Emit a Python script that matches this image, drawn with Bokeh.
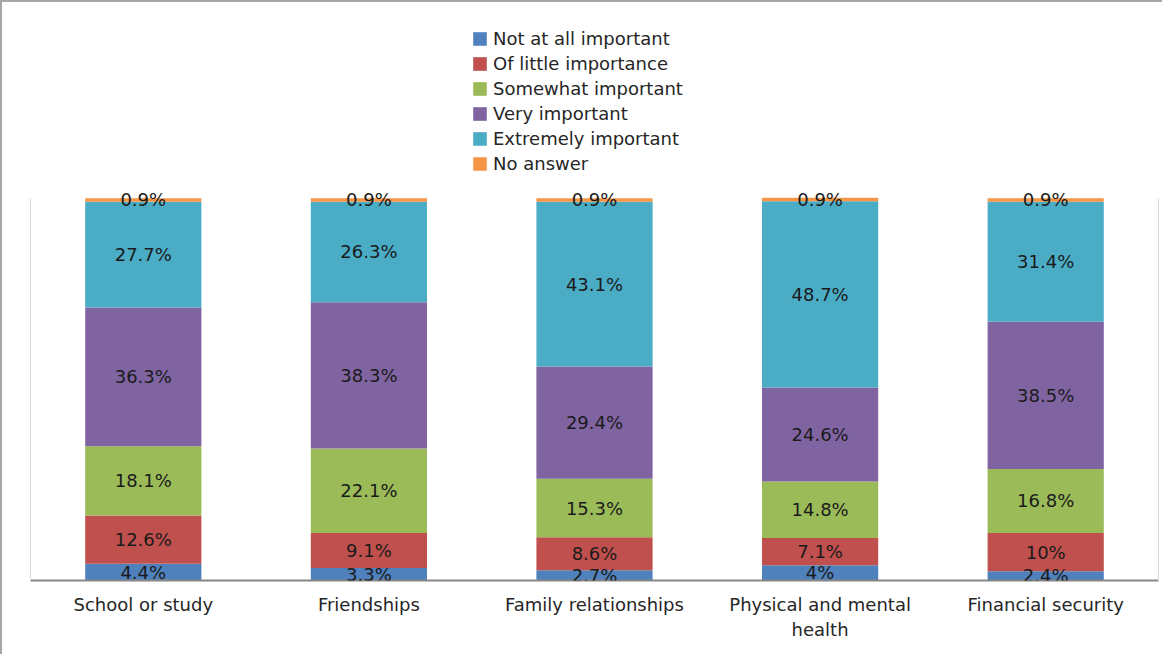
from bokeh.plotting import figure
from bokeh.models import (ColumnDataSource, Legend, LegendItem, LabelSet, LinearAxis, Range1d,
                          FactorRange, CategoricalAxis)
from bokeh.core.properties import value
from bokeh.embed import file_html
from bokeh.resources import INLINE

categories = ["School or study", "Friendships", "Family relationships",
              "Physical and mental health", "Financial security"]
label_line1 = ["School or study", "Friendships", "Family relationships",
               "Physical and mental", "Financial security"]
label_line2 = [" ", "  ", "   ", "health", "    "]
series = ["Not at all important", "Of little importance", "Somewhat important",
          "Very important", "Extremely important", "No answer"]
not_at_all = [4.4, 3.3, 2.7, 4.0, 2.4]
little = [12.6, 9.1, 8.6, 7.1, 10.0]
somewhat = [18.1, 22.1, 15.3, 14.8, 16.8]
very = [36.3, 38.3, 29.4, 24.6, 38.5]
extremely = [27.7, 26.3, 43.1, 48.7, 31.4]
no_answer = [0.9, 0.9, 0.9, 0.9, 0.9]
colors = ["#4F81BD", "#C0504D", "#9BBB59", "#8064A2", "#4BACC6", "#F79646"]

keys = ["s0", "s1", "s2", "s3", "s4", "s5"]
values = [not_at_all, little, somewhat, very, extremely, no_answer]
data = {"cat": categories}
for k, v in zip(keys, values):
    data[k] = v
src = ColumnDataSource(data)

# y range extends above 100% to leave room for the legend inside the frame
p = figure(x_range=FactorRange(*categories, range_padding=0), y_range=Range1d(0, 146.5),
           width=1162, height=654, output_backend="svg", toolbar_location=None,
           min_border_left=28, min_border_right=5, min_border_top=18, min_border_bottom=76)
p.styles = {"border-left": "2px solid #A6A6A6", "border-top": "2px solid #A6A6A6"}
p.extra_x_ranges = {"l1": FactorRange(*label_line1, range_padding=0),
                    "l2": FactorRange(*label_line2, range_padding=0)}

rs = p.vbar_stack(keys, x="cat", width=0.515, source=src, color=colors, line_color=None)

# data labels
lx, ly, lt = [], [], []
for i, c in enumerate(categories):
    base = 0.0
    for v in values:
        val = v[i]
        lx.append(c)
        ly.append(base + val / 2.0)
        lt.append(f"{val:g}%")
        base += val
lsrc = ColumnDataSource(dict(x=lx, y=ly, t=lt))
labels = LabelSet(x="x", y="y", text="t", source=lsrc, text_align="center", text_baseline="middle",
                  text_font=value("DejaVu Sans"), text_font_size="18px", text_color="#1a1a1a")
p.add_layout(labels)

p.xgrid.visible = False
p.ygrid.visible = False
p.outline_line_color = None

xa = p.xaxis[0]
xa.axis_line_color = "#868686"
xa.axis_line_width = 2
xa.major_tick_line_color = None
xa.minor_tick_line_color = None
xa.major_label_text_font_size = "0px"
xa.major_label_text_color = None
xa.major_label_standoff = 0

for rname, stand in (("l1", 1), ("l2", -5)):
    ax = CategoricalAxis(x_range_name=rname, axis_line_color=None, major_tick_line_color=None,
                         minor_tick_line_color=None, major_label_text_font="DejaVu Sans",
                         major_label_text_font_size="18px", major_label_text_color="#262626",
                         major_label_standoff=stand)
    p.add_layout(ax, "below")

ya = p.yaxis[0]
ya.bounds = (0, 100)
ya.axis_line_color = "#D9D9D9"
ya.major_tick_line_color = None
ya.minor_tick_line_color = None
ya.major_label_text_font_size = "0px"
ya.major_label_text_color = None

ra = LinearAxis(bounds=(0, 100), axis_line_color="#D9D9D9", major_tick_line_color=None,
                minor_tick_line_color=None, major_label_text_font_size="0px",
                major_label_text_color=None)
p.add_layout(ra, "right")

items = [LegendItem(label=s, renderers=[r]) for s, r in zip(series, rs)]
legend = Legend(items=items, location=(441, 406), glyph_width=17, glyph_height=17,
                label_height=21, spacing=4, label_standoff=5, padding=0, margin=0,
                border_line_color=None, background_fill_alpha=0,
                label_text_font="DejaVu Sans", label_text_font_size="18px",
                label_text_color="#262626")
p.add_layout(legend, "center")

open("out.html", "w").write(file_html(p, INLINE))
